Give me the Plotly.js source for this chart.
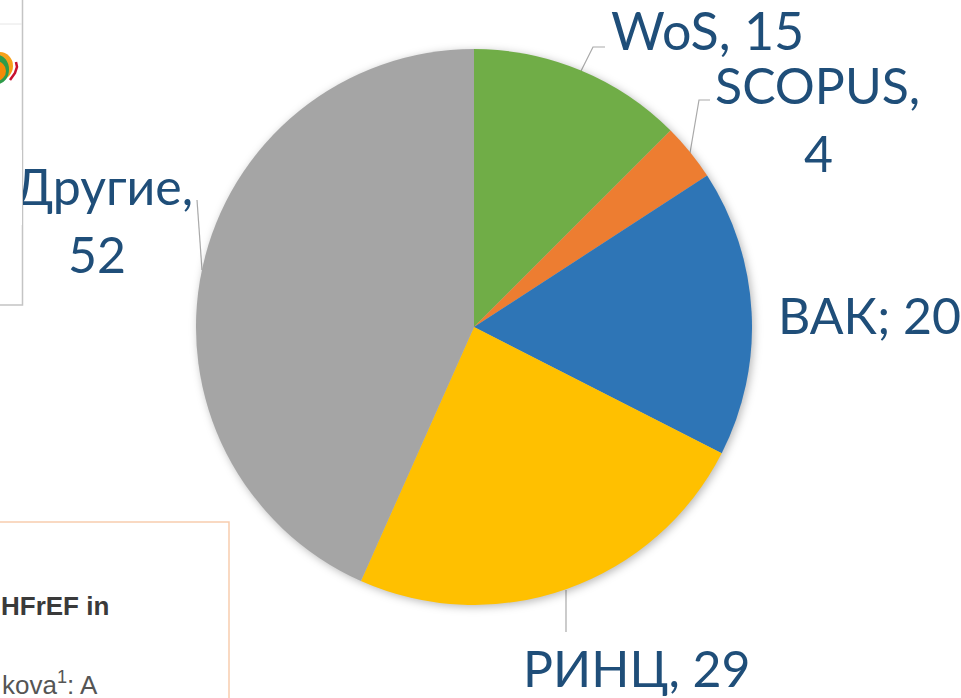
<!DOCTYPE html>
<html><head><meta charset="utf-8">
<script src="https://cdn.plot.ly/plotly-3.0.1.min.js"></script>
<style>html,body{margin:0;padding:0;background:#fff;overflow:hidden}
#c{width:961px;height:698px}
#mask{position:absolute;left:0;top:150px;width:22px;height:75px;background:#fff;border-right:1.5px solid #C4C4C4}
.pielayer{filter:drop-shadow(2px 2px 4px rgba(0,0,0,.28))}</style></head>
<body><div id="c"></div><div id="mask"></div>
<script>
const categories = ["WoS","SCOPUS","ВАК","РИНЦ","Другие"];
const values = [15,4,20,29,52];
const separators = [", ",", ","; ",", ",", "];
const sliceColors = ["#70AD47","#ED7D31","#2E75B6","#FFC000","#A5A5A5"];
const W=961,H=698;
const px=x=>x/W, py=y=>1-y/H;
const textColor="#1F4E79", labelFont="Lato, 'Open Sans', sans-serif", labelSize=50;

function lbl(text,x,y,size){return {text,x:px(x),y:py(y),xref:'paper',yref:'paper',xanchor:'center',yanchor:'middle',showarrow:false,
  font:{family:labelFont,size:size||labelSize,color:textColor}};}
function poly(points,color,width){return {type:'path',xref:'paper',yref:'paper',layer:'below',
  path:points.map((p,i)=>(i?'L':'M')+px(p[0])+','+py(p[1])).join(' '),line:{color,width},fillcolor:'rgba(0,0,0,0)'};}
function rect(x0,y0,x1,y1,line,w){return {type:'rect',xref:'paper',yref:'paper',layer:'below',x0:px(x0),x1:px(x1),y0:py(y0),y1:py(y1),line:{color:line,width:w},fillcolor:'#fff'};}
function blob(x0,y0,x1,y1,fill){return {type:'circle',xref:'paper',yref:'paper',layer:'below',x0:px(x0),x1:px(x1),y0:py(y0),y1:py(y1),line:{width:0},fillcolor:fill};}
const full=i=>categories[i]+separators[i]+values[i];

const leaderColor="#A9A9A9";
const layout={
  width:W,height:H,margin:{l:0,r:0,t:0,b:0},paper_bgcolor:'#fff',showlegend:false,
  shapes:[
    rect(-10,-10,22.5,305,'#C4C4C4',1.5),
    poly([[0,24],[22,24]],'#E6E6E6',1),
    blob(-14,52,13,80,'#F7A11A'),
    blob(-14,55,9,84,'#2E9B4A'),
    blob(-14,61,6,81,'#F58A07'),
    poly([[16,62],[17,67],[15,73],[10,80]],'#C8102E',2.5),
    rect(-10,522,229,720,'#F8CDAE',1.5),
    poly([[581,71],[593,47],[605,47]],leaderColor,1.2),
    poly([[690,153],[699,100],[710,100]],leaderColor,1.2),
    poly([[197,200],[202,270]],leaderColor,1.2),
    poly([[566,590],[566,632]],leaderColor,1.2)
  ],
  annotations:[
    lbl(full(0),707,30,52),
    lbl(categories[1]+",",817,85),
    lbl(String(values[1]),818,153),
    lbl(full(2),869,315),
    lbl(full(3),637,668),
    lbl(categories[4]+",",103,186,50),
    lbl(String(values[4]),97,254),
    {text:'<b>HFrEF in</b>',x:px(-1),y:py(606),xref:'paper',yref:'paper',xanchor:'left',yanchor:'middle',showarrow:false,
      font:{family:'Liberation Sans, Arial, sans-serif',size:26,color:'#3a3a3a'}},
    {text:'kova<sup>1</sup>: A',x:px(0),y:py(683),xref:'paper',yref:'paper',xanchor:'left',yanchor:'middle',showarrow:false,
      font:{family:'Liberation Sans, Arial, sans-serif',size:26,color:'#555'}}
  ]
};
const data=[{type:'pie',labels:categories,values:values,sort:false,direction:'clockwise',rotation:0,
  marker:{colors:sliceColors,line:{width:0}},textinfo:'none',hoverinfo:'label+value',
  domain:{x:[px(196),px(752)],y:[py(605),py(49)]}}];
Plotly.newPlot('c',data,layout,{displayModeBar:false,staticPlot:true});
</script></body></html>
